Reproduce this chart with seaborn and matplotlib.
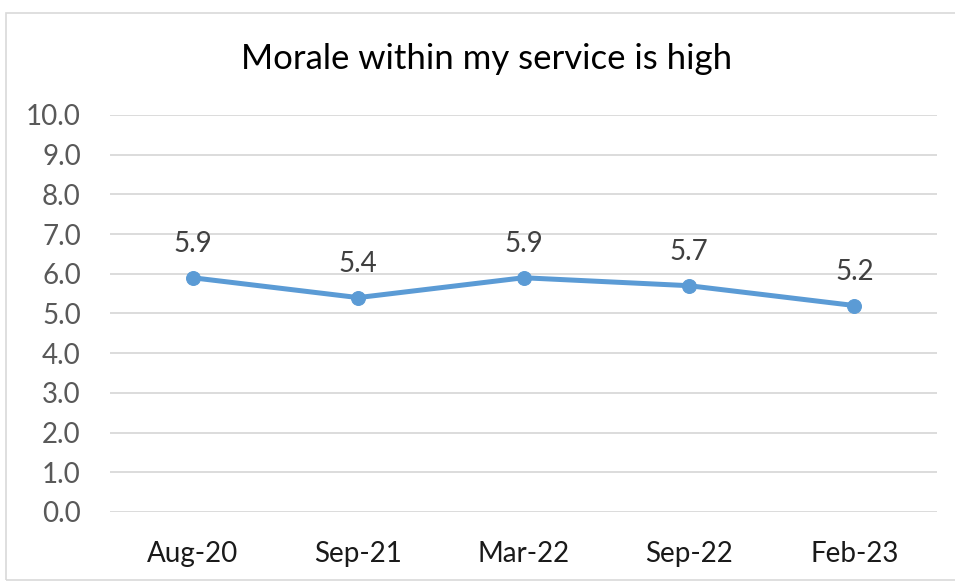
import pandas as pd
import matplotlib.pyplot as plt
import seaborn as sns
from matplotlib.patches import Rectangle

# Dados do gráfico
periodos = ['Aug-20', 'Sep-21', 'Mar-22', 'Sep-22', 'Feb-23']
valores = [5.9, 5.4, 5.9, 5.7, 5.2]
ticks_y = [0, 1, 2, 3, 4, 5, 6, 7, 8, 9, 10]

dados = pd.DataFrame({'periodo': periodos, 'valor': valores})

sns.set_theme(style="white")
plt.rcParams['font.family'] = ['Lato', 'DejaVu Sans']

fig = plt.figure(figsize=(9.55, 5.81), dpi=100)
ax = fig.add_axes([0.1152, 0.1188, 0.866, 0.6833])

cor = '#5B9BD5'
sns.lineplot(data=dados, x='periodo', y='valor', ax=ax, color=cor,
             linewidth=3.6, marker='o', markersize=10,
             markeredgecolor=cor, sort=False)

# Rótulos dos pontos
for i, v in enumerate(valores):
    ax.annotate(f'{v:.1f}', (i, v), xytext=(0, 15), textcoords='offset points',
                ha='center', va='bottom', fontsize=20, color='#404040')

ax.set_xlim(-0.5, len(periodos) - 0.5)
ax.set_ylim(0, 10)
ax.set_yticks(ticks_y)
ax.set_yticklabels([f'{t:.1f}' for t in ticks_y], fontsize=20, color='#595959')
ax.tick_params(axis='x', labelsize=20, labelcolor='#1a1a1a', length=0, pad=21)
ax.tick_params(axis='y', length=0, pad=21)
ax.yaxis.grid(True, color='#d9d9d9', linewidth=1.3)
ax.set_axisbelow(True)
for s in ax.spines.values():
    s.set_visible(False)
ax.set_xlabel('')
ax.set_ylabel('')

fig.text(0.509, 0.899, 'Morale within my service is high', ha='center', va='center',
         fontsize=25, color='#000000')

# Borda do gráfico
fig.patches.append(Rectangle((6 / 955, 0.002), 0.995, 0.975, transform=fig.transFigure,
                             fill=False, edgecolor='#d9d9d9', linewidth=1.2))

plt.savefig('out.png', dpi=100)
